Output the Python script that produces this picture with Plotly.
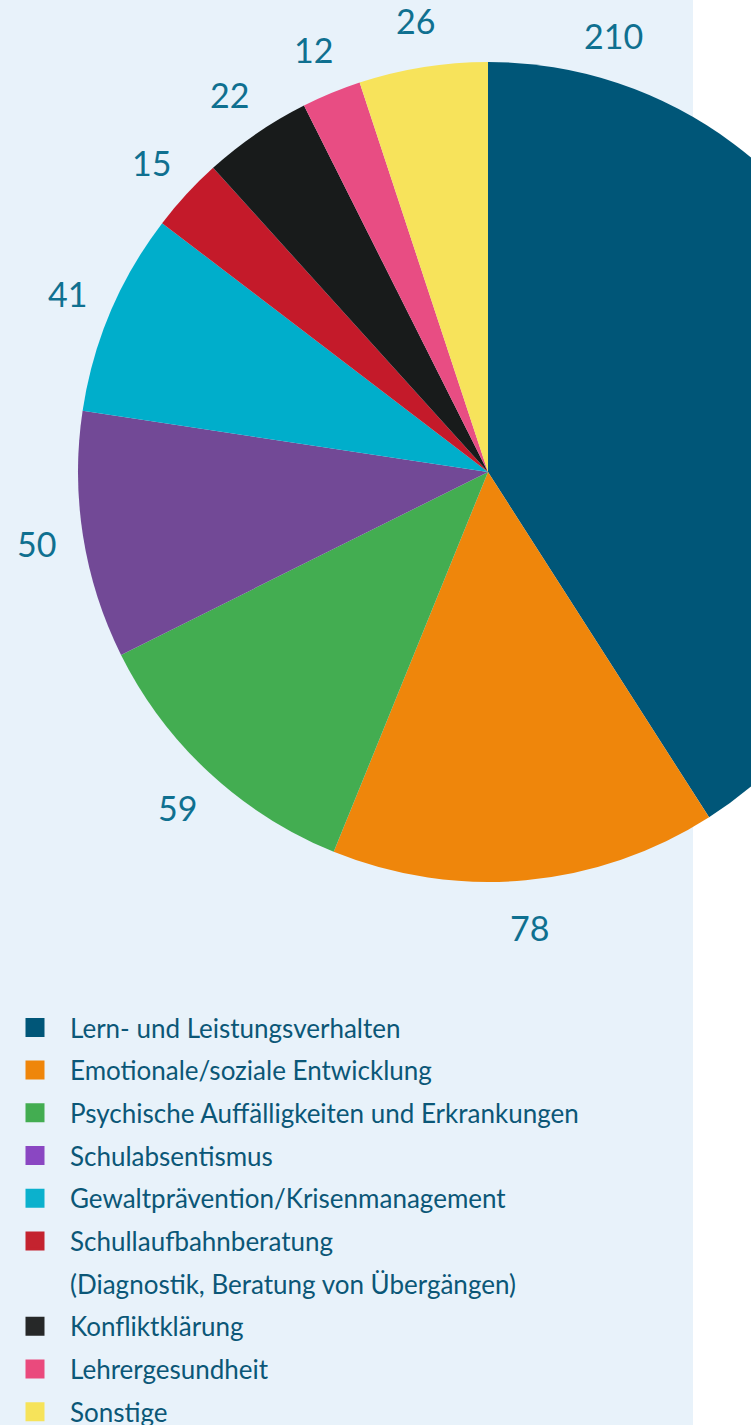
import math
import plotly.graph_objects as go

# ---- data ----
categories = [
    "Lern- und Leistungsverhalten",
    "Emotionale/soziale Entwicklung",
    "Psychische Auffälligkeiten und Erkrankungen",
    "Schulabsentismus",
    "Gewaltprävention/Krisenmanagement",
    "Schullaufbahnberatung\n(Diagnostik, Beratung von Übergängen)",
    "Konfliktklärung",
    "Lehrergesundheit",
    "Sonstige",
]
values = [210, 78, 59, 50, 41, 15, 22, 12, 26]

# ---- styles ----
pie_colors = ["#005678", "#ef860b", "#43ad51", "#724996", "#00aecb",
              "#c41a2a", "#181b1b", "#e84d83", "#f7e35b"]
legend_colors = ["#005678", "#ef860b", "#43ad51", "#8a47c2", "#0bb1cd",
                 "#c4232f", "#262828", "#ea4a7d", "#f6e35a"]
BG = "#e8f2fa"
LEGEND_TXT = "#0b5777"
NUM_TXT = "#0f7090"
FONT = "Lato"

W, H = 900, 1425
CX, CY, R = 488, 472, 410
LABEL_R = 457

fig = go.Figure()

fig.add_trace(go.Pie(
    values=values, labels=categories, sort=False, direction="clockwise",
    rotation=0, textinfo="none", showlegend=False, hoverinfo="label+value",
    marker=dict(colors=pie_colors, line=dict(width=0)),
    domain=dict(x=[(CX - R) / W, (CX + R) / W], y=[1 - (CY + R) / H, 1 - (CY - R) / H]),
))

# legend rows (dummy traces)
for i, (cat, col) in enumerate(zip(categories, legend_colors)):
    lines = cat.split("\n")
    for j, line in enumerate(lines):
        fig.add_trace(go.Scatter(
            x=[None], y=[None], mode="markers", name=line,
            legendgroup=f"g{i}_{j}",
            marker=dict(symbol="square", size=16,
                        color=col if j == 0 else "rgba(0,0,0,0)",
                        line=dict(width=3 if j == 0 else 0, color=col)),
            showlegend=True,
        ))

# value labels
total = sum(values)
label_angle_override = {0: 16.0}
cum = 0
annotations = []
for i, v in enumerate(values):
    mid = (cum + v / 2) / total * 360
    cum += v
    ang = label_angle_override.get(i, mid)
    rr = 454 if i in label_angle_override else LABEL_R
    x = CX + rr * math.sin(math.radians(ang))
    y = CY - rr * math.cos(math.radians(ang))
    annotations.append(dict(x=x, y=y, xref="x", yref="y", text=str(v), showarrow=False,
                            font=dict(family=FONT, size=34, color=NUM_TXT),
                            xanchor="center", yanchor="middle"))

fig.update_layout(
    width=W, height=H,
    margin=dict(l=0, r=0, t=0, b=0, pad=0, autoexpand=False),
    paper_bgcolor="white", plot_bgcolor="rgba(0,0,0,0)",
    xaxis=dict(range=[0, W], visible=False, fixedrange=True),
    yaxis=dict(range=[H, 0], visible=False, fixedrange=True),
    shapes=[dict(type="rect", xref="x", yref="y", x0=0, x1=693, y0=0, y1=H,
                 fillcolor=BG, line=dict(width=0), layer="below")],
    annotations=annotations,
    showlegend=True,
    legend=dict(x=0.0, xanchor="left", y=1 - 1004 / H, yanchor="top",
                traceorder="grouped", tracegroupgap=5.9, itemwidth=60,
                bgcolor="rgba(0,0,0,0)", borderwidth=0,
                font=dict(family=FONT, size=26, color=LEGEND_TXT),
                itemclick=False, itemdoubleclick=False),
)

fig.write_html("out.html", post_script="document.body.style.margin='0';document.body.style.overflow='hidden';")
